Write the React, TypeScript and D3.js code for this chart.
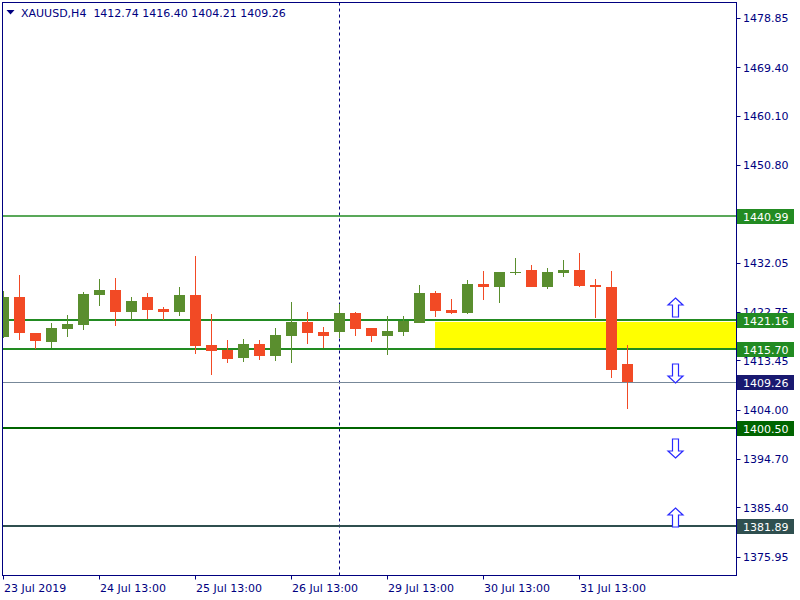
import React from 'react';
import * as d3 from 'd3';

// H4 bars, XAUUSD 23-31 Jul 2019
const opens = [1417.98, 1425.55, 1418.74, 1417.02, 1419.50, 1420.27, 1425.99, 1426.88, 1422.69, 1425.55,
  1423.26, 1422.74, 1425.93, 1416.40, 1415.44, 1413.97, 1416.59, 1414.36, 1418.17, 1420.78,
  1418.87, 1418.93, 1422.50, 1419.64, 1418.17, 1418.93, 1420.65, 1426.31, 1423.07, 1422.50,
  1428.03, 1427.45, 1430.12, 1430.69, 1427.45, 1430.12, 1430.69, 1427.83, 1427.45, 1412.74];
const highs = [1426.69, 1429.74, 1418.74, 1420.59, 1422.11, 1426.44, 1428.98, 1429.17, 1425.55, 1426.31,
  1423.64, 1427.45, 1433.36, 1422.31, 1417.35, 1417.54, 1417.35, 1419.64, 1424.59, 1422.69,
  1419.83, 1424.21, 1422.69, 1419.64, 1421.92, 1421.92, 1427.83, 1426.69, 1425.17, 1428.79,
  1430.50, 1430.31, 1432.98, 1431.65, 1431.08, 1432.60, 1433.94, 1428.98, 1430.50, 1416.40];
const lows = [1417.67, 1417.35, 1415.58, 1415.88, 1417.98, 1419.31, 1423.89, 1420.07, 1421.16, 1421.35,
  1421.16, 1421.98, 1414.74, 1410.73, 1413.02, 1413.21, 1413.59, 1413.40, 1413.02, 1416.64,
  1415.82, 1417.79, 1418.17, 1417.02, 1414.55, 1418.17, 1420.65, 1421.79, 1422.36, 1422.31,
  1424.97, 1424.46, 1429.74, 1427.45, 1427.07, 1429.36, 1427.45, 1421.54, 1410.10, 1404.21];
const closes = [1425.55, 1418.74, 1417.16, 1419.64, 1420.40, 1426.12, 1426.88, 1422.69, 1424.78, 1423.07,
  1422.74, 1425.93, 1416.26, 1415.31, 1413.78, 1416.59, 1414.36, 1418.30, 1420.84, 1418.74,
  1418.17, 1422.50, 1419.50, 1418.17, 1419.06, 1420.97, 1426.31, 1422.93, 1422.55, 1428.03,
  1427.51, 1430.31, 1430.31, 1427.45, 1430.31, 1430.69, 1427.64, 1427.45, 1411.63, 1409.26];

const dateTickIdx = [0, 6, 12, 18, 24, 30, 36];
const dateTickLabels = ['23 Jul 2019', '24 Jul 13:00', '25 Jul 13:00', '26 Jul 13:00', '29 Jul 13:00', '30 Jul 13:00', '31 Jul 13:00'];
const priceTicks = [1478.85, 1469.40, 1460.10, 1450.80, 1432.05, 1422.75, 1413.45, 1404.00, 1394.70, 1385.40, 1375.95];

const levelPrices = [1440.99, 1421.16, 1415.70, 1409.26, 1400.50, 1381.89];
const levelColors = ['#228b22', '#228b22', '#228b22', '#778899', '#006400', '#2f4f4f'];
const levelBoxColors = ['#228b22', '#228b22', '#228b22', '#191970', '#006400', '#2f4f4f'];
const levelWidths = [1.5, 2, 2, 1, 2, 2];

const zoneFromIdx = 27;
const zoneTop = 1421.16;
const zoneBottom = 1415.70;

const arrowIdx = [42, 42, 42, 42];
const arrowPrices = [1423.53, 1410.93, 1396.62, 1383.45];
const arrowUp = [true, false, false, true];

const cursorIdx = 21;

const W = 800;
const H = 600;
const L = 2.5, R = 736.5, T = 2.5, B = 575.5;
const NAVY = '#000080';
const BULL = '#5a8e2e';
const BEAR = '#f24a25';
const FONT = '"DejaVu Sans", Tahoma, sans-serif';

const x = d3.scaleLinear().domain([0, 39]).range([3.5, 627.5]);
const y = d3.scaleLinear().domain([1372.29, 1481.64]).range([576, 3]);

function arrowPath(cx: number, cy: number, up: boolean) {
  const s = up ? 1 : -1;
  const pts: [number, number][] = [
    [0, -9.5], [7.5, -2.5], [3, -2.5], [3, 9.5], [-3, 9.5], [-3, -2.5], [-7.5, -2.5],
  ];
  return 'M' + pts.map(([dx, dy]) => `${cx + dx},${cy + s * dy}`).join('L') + 'Z';
}

const App: React.FC = () => {
  const n = opens.length;
  return (
    <div style={{ position: 'absolute', left: 0, top: 0 }}>
      <svg width={W} height={H} style={{ display: 'block', background: '#fff' }}>
        <defs>
          <clipPath id="plot">
            <rect x={L} y={T} width={R - L} height={B - T} />
          </clipPath>
        </defs>
        <rect width={W} height={H} fill="#fff" />

        <g clipPath="url(#plot)">
          <rect x={x(zoneFromIdx) - 0.5} y={y(zoneTop) + 2} width={R - x(zoneFromIdx) + 0.5}
            height={y(zoneBottom) - y(zoneTop) - 2} fill="#ffff00" />

          <line x1={x(cursorIdx)} x2={x(cursorIdx)} y1={T} y2={B} stroke={NAVY} strokeDasharray="3,3" />

          {levelPrices.map((p, i) => (
            <line key={'l' + i} x1={L} x2={R} y1={Math.round(y(p)) + (levelWidths[i] === 1 ? 0.5 : 0)}
              y2={Math.round(y(p)) + (levelWidths[i] === 1 ? 0.5 : 0)}
              stroke={levelColors[i]} strokeWidth={levelWidths[i]} />
          ))}

          {d3.range(n).map((i) => {
            const cx = x(i);
            const up = closes[i] >= opens[i];
            const col = up ? BULL : BEAR;
            const yt = y(Math.max(opens[i], closes[i]));
            const yb = y(Math.min(opens[i], closes[i]));
            return (
              <g key={'c' + i} shapeRendering="crispEdges">
                <rect x={cx - 0.5} y={y(highs[i])} width={1} height={y(lows[i]) - y(highs[i])} fill={col} />
                <rect x={cx - 5.5} y={yt} width={11} height={Math.max(1.5, yb - yt)} fill={col} />
              </g>
            );
          })}

          {arrowIdx.map((a, i) => (
            <path key={'a' + i} d={arrowPath(x(a), y(arrowPrices[i]), arrowUp[i])}
              fill="#fff" stroke="#2a2aff" strokeWidth={1.2} />
          ))}
        </g>

        <rect x={L} y={T} width={R - L} height={B - T} fill="none" stroke={NAVY} strokeWidth={1} />

        {/* header */}
        <path d="M6.5,10 L14.5,10 L10.5,14.5 Z" fill={NAVY} />
        <text x={21} y={17} fontFamily={FONT} fontSize={11} fill={NAVY} style={{ whiteSpace: 'pre' }}>
          {'XAUUSD,H4  1412.74 1416.40 1404.21 1409.26'}
        </text>

        {/* time axis */}
        {dateTickIdx.map((d, i) => {
          const tx = Math.floor(x(d)) + 0.5;
          return (
            <g key={'t' + i}>
              <line x1={tx} x2={tx} y1={B} y2={B + 4} stroke={NAVY} />
              <text x={tx + 0.5} y={592} fontFamily={FONT} fontSize={11} fill={NAVY}>{dateTickLabels[i]}</text>
            </g>
          );
        })}

        {/* price axis */}
        {priceTicks.map((p, i) => (
          <g key={'p' + i}>
            <line x1={R} x2={R + 4} y1={Math.round(y(p)) + 0.5} y2={Math.round(y(p)) + 0.5} stroke={NAVY} />
            <text x={743} y={y(p) + 4.5} fontFamily={FONT} fontSize={11} fill={NAVY}>{p.toFixed(2)}</text>
          </g>
        ))}

        {levelPrices.map((p, i) => (
          <g key={'b' + i}>
            <rect x={737} y={Math.round(y(p)) - 7} width={57} height={15} fill={levelBoxColors[i]} />
            <text x={743} y={Math.round(y(p)) + 4.5} fontFamily={FONT} fontSize={11} fill="#fff">{p.toFixed(2)}</text>
          </g>
        ))}
      </svg>
    </div>
  );
};

export default App;
